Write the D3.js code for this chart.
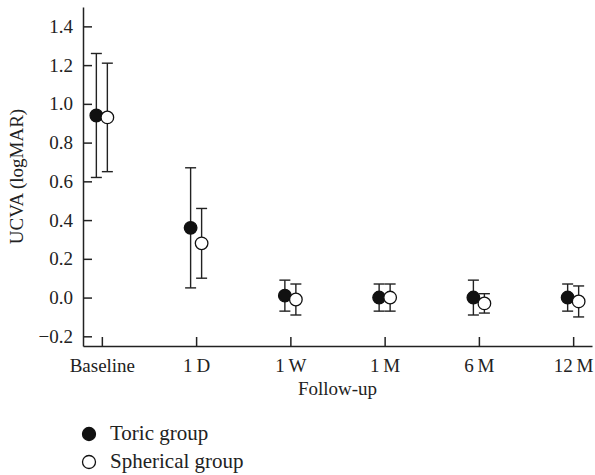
<!DOCTYPE html>
<html lang="en">
<head>
<meta charset="UTF-8">
<title>UCVA follow-up</title>
<style>
  body { margin: 0; background: #fff; }
  svg text { font-family: "Liberation Serif", "Times New Roman", serif; fill: #222; }
</style>
</head>
<body>
<svg id="chart" width="595" height="475"></svg>
<script src="https://d3js.org/d3.v7.min.js"></script>
<script>
// categories and tick labels
let visits = ["Baseline", "1\u2009D", "1\u2009W", "1\u2009M", "6\u2009M", "12\u2009M"];
let yTicks = [-0.2, 0, 0.2, 0.4, 0.6, 0.8, 1.0, 1.2, 1.4];

// Toric group: mean, lower, upper
let toricMean = [0.94, 0.36, 0.01, 0.00, 0.00, 0.00];
let toricLow  = [0.62, 0.05, -0.07, -0.07, -0.09, -0.07];
let toricHigh = [1.26, 0.67, 0.09, 0.07, 0.09, 0.07];

// Spherical group: mean, lower, upper
let sphMean = [0.93, 0.28, -0.01, 0.00, -0.03, -0.02];
let sphLow  = [0.65, 0.10, -0.09, -0.07, -0.08, -0.10];
let sphHigh = [1.21, 0.46, 0.07, 0.07, 0.02, 0.06];

let svg = d3.select('#chart');
let mLeft = 83, mRight = 592, mTop = 7, mBottom = 346;
let font = '"Liberation Serif", "Times New Roman", serif';

let x = d3.scalePoint().domain(visits).range([mLeft, mRight]).padding(0.2);
let y = d3.scaleLinear().domain([-0.25, 1.5]).range([mBottom, mTop]);

// axes
let yAxis = svg.append('g')
    .attr('transform', `translate(${mLeft},0)`)
    .call(d3.axisRight(y).tickValues(yTicks).tickSize(9).tickSizeOuter(0)
        .tickFormat(d => d < 0 ? '\u2212' + Math.abs(d).toFixed(1) : d.toFixed(1)));
yAxis.attr('font-family', font).attr('font-size', 19);
yAxis.selectAll('text').attr('x', -10).attr('text-anchor', 'end').attr('fill', '#222');

let xAxis = svg.append('g')
    .attr('transform', `translate(0,${mBottom})`)
    .call(d3.axisTop(x).tickSize(9).tickSizeOuter(0));
xAxis.attr('font-family', font).attr('font-size', 19);
xAxis.selectAll('text').attr('y', 26).attr('dy', 0).attr('fill', '#222');

svg.selectAll('.domain, .tick line').attr('stroke', '#222').attr('stroke-width', 1.5);

// axis titles
svg.append('text')
    .attr('transform', `translate(23,${(mTop + mBottom) / 2}) rotate(-90)`)
    .attr('text-anchor', 'middle')
    .style('font-size', '19px')
    .text('UCVA (logMAR)');

svg.append('text')
    .attr('x', (mLeft + mRight) / 2).attr('y', 395)
    .attr('text-anchor', 'middle')
    .style('font-size', '19px')
    .text('Follow-up');

// error bars + points
let groups = [
    { mean: toricMean, low: toricLow, high: toricHigh, dx: -5.5, fill: '#111' },
    { mean: sphMean, low: sphLow, high: sphHigh, dx: 5.5, fill: '#fff' }
];
let cap = 5.5, r = 6.3;

groups.forEach(g => {
    let gg = svg.append('g');
    visits.forEach((v, i) => {
        let cx = x(v) + g.dx;
        gg.append('line')
            .attr('x1', cx).attr('x2', cx)
            .attr('y1', y(g.low[i])).attr('y2', y(g.high[i]))
            .attr('stroke', '#222').attr('stroke-width', 1.4);
        [g.low[i], g.high[i]].forEach(val => {
            gg.append('line')
                .attr('x1', cx - cap).attr('x2', cx + cap)
                .attr('y1', y(val)).attr('y2', y(val))
                .attr('stroke', '#222').attr('stroke-width', 1.4);
        });
        gg.append('circle')
            .attr('cx', cx).attr('cy', y(g.mean[i])).attr('r', r)
            .attr('fill', g.fill).attr('stroke', '#111').attr('stroke-width', 1.3);
    });
});

// legend
let legendItems = [
    { label: 'Toric group', fill: '#111' },
    { label: 'Spherical group', fill: '#fff' }
];
let legend = svg.append('g');
legendItems.forEach((d, i) => {
    let ly = 434 + i * 28;
    legend.append('circle')
        .attr('cx', 89).attr('cy', ly).attr('r', 6.5)
        .attr('fill', d.fill).attr('stroke', '#111').attr('stroke-width', 1.3);
    legend.append('text')
        .attr('x', 110).attr('y', ly + 6)
        .style('font-size', '21px')
        .text(d.label);
});
</script>
</body>
</html>
